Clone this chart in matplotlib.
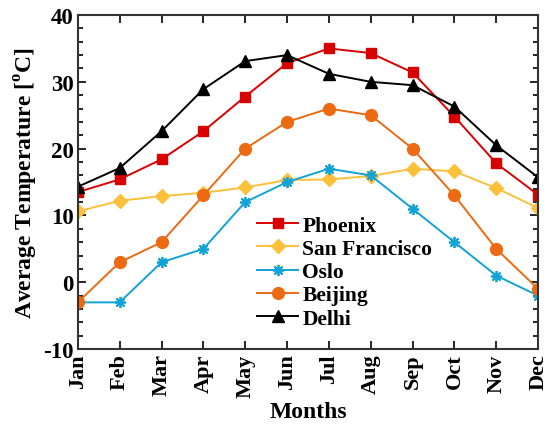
import matplotlib
matplotlib.use("Agg")
import matplotlib.pyplot as plt
from matplotlib.ticker import MultipleLocator

plt.rcParams['font.family'] = 'Liberation Serif'
plt.rcParams['font.weight'] = 'bold'
plt.rcParams['mathtext.fontset'] = 'custom'
plt.rcParams['mathtext.rm'] = 'Liberation Serif:bold'
plt.rcParams['mathtext.bf'] = 'Liberation Serif:bold'
plt.rcParams['axes.unicode_minus'] = False

months = ['Jan', 'Feb', 'Mar', 'Apr', 'May', 'Jun', 'Jul', 'Aug', 'Sep', 'Oct', 'Nov', 'Dec']
phoenix = [13.5, 15.4, 18.4, 22.6, 27.8, 32.8, 35.0, 34.3, 31.4, 24.8, 17.8, 13.1]
san_francisco = [10.6, 12.2, 12.9, 13.4, 14.2, 15.3, 15.4, 15.9, 17.0, 16.6, 14.1, 11.1]
oslo = [-3, -3, 3, 5, 12, 15, 17, 16, 11, 6, 1, -2]
beijing = [-3, 3, 6, 13, 20, 24, 26, 25, 20, 13, 5, -1]
delhi = [14.3, 17.1, 22.6, 28.9, 33.1, 34.0, 31.2, 30.0, 29.5, 26.3, 20.5, 15.7]

fig = plt.figure(figsize=(5.48, 4.27), dpi=100)
ax = fig.add_axes([0.142, 0.180, 0.840, 0.7825])

x = list(range(len(months)))
ax.plot(x, phoenix, color='#d90000', marker='s', ms=6.5, lw=1.4, label='Phoenix')
ax.plot(x, san_francisco, color='#fdc03a', marker='D', ms=7, lw=1.4, label='San Francisco')
ax.plot(x, oslo, color='#12a3d6', marker=(8, 2, 0), ms=8, lw=1.4, mew=1.3, label='Oslo')
ax.plot(x, beijing, color='#ec6a12', marker='o', ms=8.5, lw=1.4, label='Beijing')
ax.plot(x, delhi, color='black', marker='^', ms=8, lw=1.4, label='Delhi')

ax.set_xlim(0, 11)
ax.set_ylim(-10, 40)
ax.set_xticks(x)
ax.set_xticklabels(months, rotation=90, fontsize=16, fontweight='bold')
ax.yaxis.set_major_locator(MultipleLocator(10))
ax.yaxis.set_minor_locator(MultipleLocator(2))
for lab in ax.get_yticklabels():
    lab.set_fontsize(16.5)
    lab.set_fontweight('bold')
ax.tick_params(which='both', direction='in', top=True, right=True, width=1.2)
ax.tick_params(which='major', length=6, pad=3)
ax.tick_params(which='minor', length=3.5)
ax.tick_params(axis='x', which='minor', top=False, bottom=False)
for sp in ax.spines.values():
    sp.set_linewidth(1.5)
    sp.set_color('#333333')

ax.set_xlabel('Months', fontsize=17, fontweight='bold', labelpad=3)
ax.set_ylabel(r'Average Temperature [$^{\mathrm{o}}$C]', fontsize=17, fontweight='bold', labelpad=2)

ax.legend(loc='upper left', bbox_to_anchor=(0.357, 0.445), frameon=False, fontsize=15.5,
          handlelength=1.9, handletextpad=0.2, labelspacing=0.15, borderpad=0.2)

fig.savefig('out.png', dpi=100)
